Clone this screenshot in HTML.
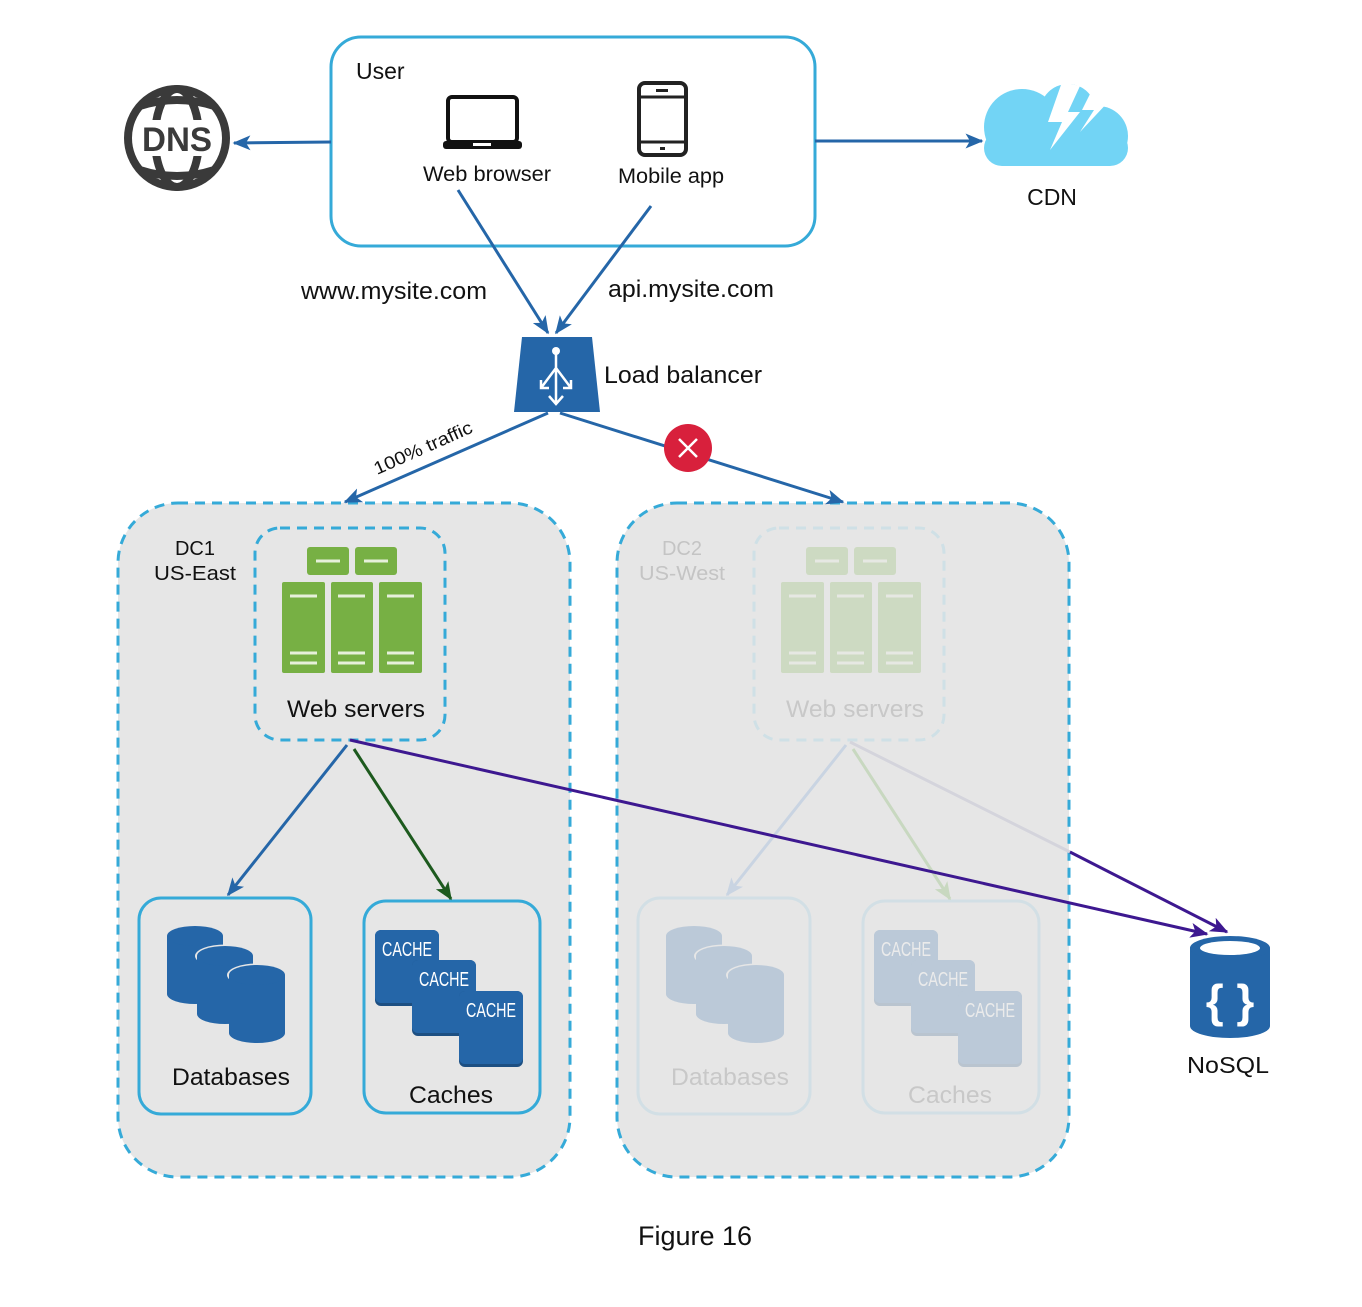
<!DOCTYPE html>
<html><head><meta charset="utf-8"><style>
body{margin:0;background:#fff}
text{font-family:"Liberation Sans",sans-serif;fill:#111}
</style></head><body>
<svg width="1362" height="1302" viewBox="0 0 1362 1302" xmlns="http://www.w3.org/2000/svg">
<defs>
<marker id="a1" viewBox="0 0 12 10" markerWidth="18" markerHeight="15" refX="11" refY="5" orient="auto" markerUnits="userSpaceOnUse"><path d="M0,0 L12,5 L0,10 L3,5z" fill="#2566a8"/></marker>
<marker id="ag" viewBox="0 0 12 10" markerWidth="18" markerHeight="15" refX="11" refY="5" orient="auto" markerUnits="userSpaceOnUse"><path d="M0,0 L12,5 L0,10 L3,5z" fill="#1d5a1e"/></marker>
<marker id="ap" viewBox="0 0 12 10" markerWidth="18" markerHeight="15" refX="11" refY="5" orient="auto" markerUnits="userSpaceOnUse"><path d="M0,0 L12,5 L0,10 L3,5z" fill="#3d1890"/></marker>
<marker id="ax" viewBox="0 0 12 10" markerWidth="18" markerHeight="15" refX="11" refY="5" orient="auto" markerUnits="userSpaceOnUse"><path d="M0,0 L12,5 L0,10 L3,5z" fill="#c9d4e2"/></marker>
<marker id="axg" viewBox="0 0 12 10" markerWidth="18" markerHeight="15" refX="11" refY="5" orient="auto" markerUnits="userSpaceOnUse"><path d="M0,0 L12,5 L0,10 L3,5z" fill="#c8d8c0"/></marker>
<g id="ws">
<rect x="307" y="547" width="42" height="28" rx="3" fill="#77b044"/>
<rect x="355" y="547" width="42" height="28" rx="3" fill="#77b044"/>
<rect x="282" y="582" width="43" height="91" rx="2" fill="#77b044"/>
<rect x="331" y="582" width="42" height="91" rx="2" fill="#77b044"/>
<rect x="379" y="582" width="43" height="91" rx="2" fill="#77b044"/>
<g stroke="#e6f0da" stroke-width="3">
<path d="M316 561h24M364 561h24M290 596h27M338 596h27M387 596h27M290 653h27M338 653h27M387 653h27M290 663h27M338 663h27M387 663h27"/></g>
</g>
<g id="cyl">
<path d="M0 10 v58 a28 10 0 0 0 56 0 v-58z" fill="#2566a8"/>
<ellipse cx="28" cy="10" rx="28" ry="10" fill="#2566a8"/>
</g>
<g id="db">
<use href="#cyl" x="167" y="926"/>
<ellipse cx="225" cy="956" rx="30" ry="11.5" fill="#e6e6e6"/>
<use href="#cyl" x="197" y="946"/>
<ellipse cx="257" cy="975" rx="30" ry="11.5" fill="#e6e6e6"/>
<use href="#cyl" x="229" y="965"/>
</g>
<g id="cache">
<rect x="375" y="930" width="64" height="76" rx="6" fill="#1d4f82"/>
<rect x="375" y="930" width="64" height="73" rx="6" fill="#2566a8"/>
<rect x="412" y="960" width="64" height="76" rx="6" fill="#1d4f82"/>
<rect x="412" y="960" width="64" height="73" rx="6" fill="#2566a8"/>
<rect x="459" y="991" width="64" height="76" rx="6" fill="#1d4f82"/>
<rect x="459" y="991" width="64" height="73" rx="6" fill="#2566a8"/>
<g font-size="20">
<text x="382" y="956" style="fill:#fff" textLength="50" lengthAdjust="spacingAndGlyphs">CACHE</text>
<text x="419" y="986" style="fill:#fff" textLength="50" lengthAdjust="spacingAndGlyphs">CACHE</text>
<text x="466" y="1017" style="fill:#fff" textLength="50" lengthAdjust="spacingAndGlyphs">CACHE</text></g>
</g>
</defs>

<rect x="331" y="37" width="484" height="209" rx="30" fill="#fff" stroke="#35aad8" stroke-width="3"/>
<text x="356" y="79" font-size="23">User</text>
<rect x="448" y="97" width="69" height="45" rx="4" fill="none" stroke="#111" stroke-width="4"/>
<rect x="443" y="141" width="79" height="8" rx="3" fill="#111"/>
<rect x="473" y="143" width="18" height="3" fill="#fff"/>
<text x="487" y="181" font-size="21" text-anchor="middle" textLength="128" lengthAdjust="spacingAndGlyphs">Web browser</text>
<rect x="639" y="83" width="47" height="72" rx="6" fill="none" stroke="#222" stroke-width="4"/>
<path d="M639 97h47M639 142h47" stroke="#222" stroke-width="3"/>
<rect x="656" y="89" width="12" height="3" fill="#222"/>
<rect x="660" y="147" width="5" height="3" fill="#222"/>
<text x="671" y="183" font-size="21" text-anchor="middle" textLength="106" lengthAdjust="spacingAndGlyphs">Mobile app</text>

<g fill="none" stroke="#3a3a3a" stroke-width="8">
<circle cx="177" cy="138" r="49"/>
<ellipse cx="177" cy="138" rx="22" ry="49"/>
<path d="M140 106 Q177 94 214 106 M140 170 Q177 182 214 170"/>
</g>
<rect x="140" y="120" width="74" height="36" fill="#fff"/>
<text x="177" y="151" font-size="34" font-weight="bold" text-anchor="middle" style="fill:#3a3a3a" textLength="70" lengthAdjust="spacingAndGlyphs">DNS</text>
<path d="M331 142 L234 143" stroke="#2566a8" stroke-width="3" marker-end="url(#a1)"/>

<g fill="#72d4f5">
<circle cx="1022" cy="127" r="38"/>
<circle cx="1068" cy="112" r="28"/>
<circle cx="1098" cy="136" r="30"/>
<rect x="984" y="130" width="144" height="36" rx="18"/>
</g>
<path d="M1062 82 L1048 122 L1062 122 L1050 150 L1080 112 L1068 112 L1080 86 Z" fill="#fff"/>
<path d="M1095 84 L1082 110 L1094 110 L1080 132 L1110 100 Z" fill="#fff"/>
<text x="1052" y="205" font-size="23" text-anchor="middle">CDN</text>
<path d="M815 141 L982 141" stroke="#2566a8" stroke-width="3" marker-end="url(#a1)"/>

<path d="M458 190 L548 333" stroke="#2566a8" stroke-width="3" marker-end="url(#a1)"/>
<path d="M651 206 L556 333" stroke="#2566a8" stroke-width="3" marker-end="url(#a1)"/>
<text x="301" y="299" font-size="24" textLength="186" lengthAdjust="spacingAndGlyphs">www.mysite.com</text>
<text x="608" y="297" font-size="24" textLength="166" lengthAdjust="spacingAndGlyphs">api.mysite.com</text>

<path d="M522 337 L592 337 L600 412 L514 412 Z" fill="#2566a8"/>
<g stroke="#fff" stroke-width="2.5" fill="none">
<path d="M556 352 V404 M549 396 L556 404 L563 396 M556 368 L541 388 M556 368 L571 388 M541 380 V388 H549 M571 380 V388 H563"/>
</g>
<circle cx="556" cy="351" r="4" fill="#fff"/>
<text x="604" y="383" font-size="24" textLength="158" lengthAdjust="spacingAndGlyphs">Load balancer</text>

<rect x="118" y="503" width="452" height="674" rx="60" fill="#e6e6e6" stroke="#35aad8" stroke-width="3" stroke-dasharray="10 7"/>
<rect x="617" y="503" width="452" height="674" rx="60" fill="#e6e6e6" stroke="#35aad8" stroke-width="3" stroke-dasharray="10 7"/>

<path d="M548 413 L345 502" stroke="#2566a8" stroke-width="3" marker-end="url(#a1)"/>
<path d="M560 413 L843 502" stroke="#2566a8" stroke-width="3" marker-end="url(#a1)"/>
<text x="0" y="0" font-size="18" transform="translate(377,475) rotate(-24)" textLength="106" lengthAdjust="spacingAndGlyphs">100% traffic</text>
<circle cx="688" cy="448" r="24" fill="#d8203c"/>
<path d="M679 439 L697 457 M697 439 L679 457" stroke="#fff" stroke-width="2.5"/>

<text x="195" y="555" font-size="20" text-anchor="middle">DC1</text>
<text x="195" y="580" font-size="20" text-anchor="middle" textLength="82" lengthAdjust="spacingAndGlyphs">US-East</text>
<rect x="255" y="528" width="190" height="212" rx="25" fill="none" stroke="#35aad8" stroke-width="3" stroke-dasharray="10 7"/>
<use href="#ws"/>
<text x="356" y="717" font-size="24" text-anchor="middle" textLength="138" lengthAdjust="spacingAndGlyphs">Web servers</text>
<rect x="139" y="898" width="172" height="216" rx="22" fill="none" stroke="#35aad8" stroke-width="3"/>
<use href="#db"/>
<text x="231" y="1085" font-size="24" text-anchor="middle" textLength="118" lengthAdjust="spacingAndGlyphs">Databases</text>
<rect x="364" y="901" width="176" height="212" rx="22" fill="none" stroke="#35aad8" stroke-width="3"/>
<use href="#cache"/>
<text x="451" y="1103" font-size="24" text-anchor="middle" textLength="84" lengthAdjust="spacingAndGlyphs">Caches</text>
<path d="M347 745 L228 895" stroke="#2566a8" stroke-width="3" marker-end="url(#a1)"/>
<path d="M354 749 L451 899" stroke="#1d5a1e" stroke-width="3" marker-end="url(#ag)"/>

<g opacity="0.22">
<g transform="translate(499,0)">
<use href="#ws"/>
<use href="#db"/>
<use href="#cache"/>
</g></g>
<text x="682" y="555" font-size="20" text-anchor="middle" style="fill:#c4c4c4">DC2</text>
<text x="682" y="580" font-size="20" text-anchor="middle" style="fill:#c4c4c4" textLength="86" lengthAdjust="spacingAndGlyphs">US-West</text>
<rect x="754" y="528" width="190" height="212" rx="25" fill="none" stroke="#cfe0e6" stroke-width="3" stroke-dasharray="10 7"/>
<text x="855" y="717" font-size="24" text-anchor="middle" style="fill:#c8c8c8" textLength="138" lengthAdjust="spacingAndGlyphs">Web servers</text>
<rect x="638" y="898" width="172" height="216" rx="22" fill="none" stroke="#d2dfe5" stroke-width="3"/>
<text x="730" y="1085" font-size="24" text-anchor="middle" style="fill:#c8c8c8" textLength="118" lengthAdjust="spacingAndGlyphs">Databases</text>
<rect x="863" y="901" width="176" height="212" rx="22" fill="none" stroke="#d2dfe5" stroke-width="3"/>
<text x="950" y="1103" font-size="24" text-anchor="middle" style="fill:#c8c8c8" textLength="84" lengthAdjust="spacingAndGlyphs">Caches</text>
<path d="M846 745 L727 895" stroke="#c9d4e2" stroke-width="3" marker-end="url(#ax)"/>
<path d="M853 749 L950 899" stroke="#c8d8c0" stroke-width="3" marker-end="url(#axg)"/>
<path d="M850 742 L1070 852" stroke="#d4d4dc" stroke-width="3"/>
<path d="M1070 852 L1227 932" stroke="#3d1890" stroke-width="3" marker-end="url(#ap)"/>

<path d="M350 740 L1207 934" stroke="#3d1890" stroke-width="3" marker-end="url(#ap)"/>

<path d="M1190 948 v78 a40 12 0 0 0 80 0 v-78z" fill="#2566a8"/>
<ellipse cx="1230" cy="948" rx="40" ry="12" fill="#2566a8"/>
<ellipse cx="1230" cy="948" rx="30" ry="7" fill="#fff"/>
<text x="1230" y="1017" font-size="46" font-weight="bold" text-anchor="middle" style="fill:#fff">{ }</text>
<text x="1228" y="1073" font-size="23" text-anchor="middle" textLength="82" lengthAdjust="spacingAndGlyphs">NoSQL</text>

<text x="695" y="1245" font-size="27" text-anchor="middle">Figure 16</text>
</svg>
</body></html>
